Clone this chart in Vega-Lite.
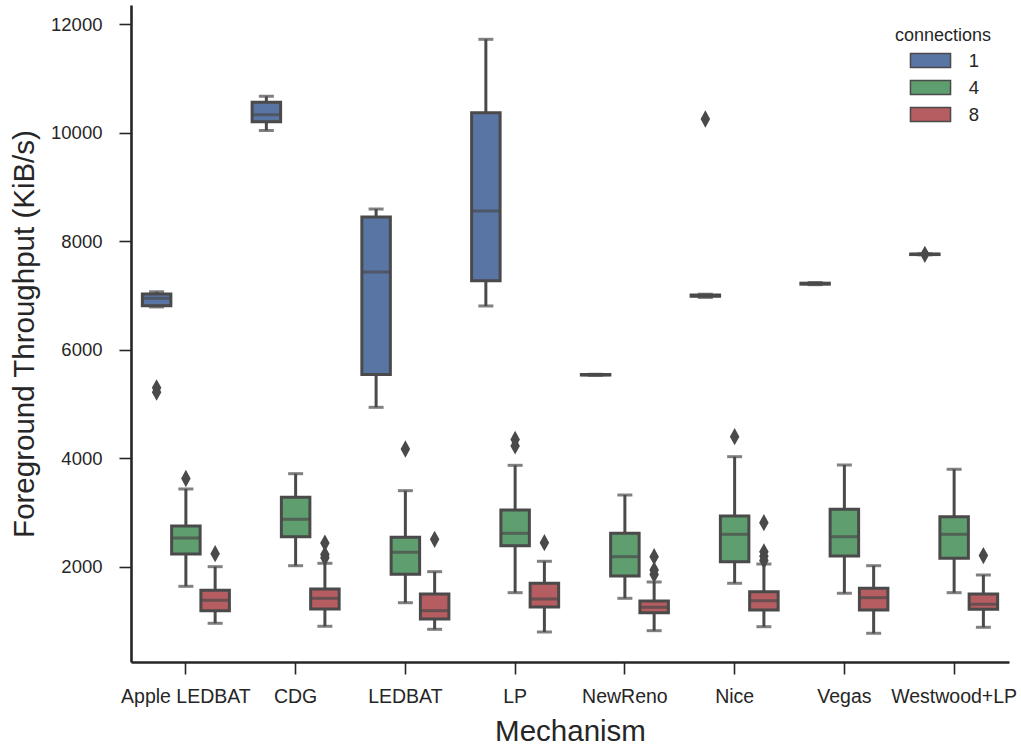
{
  "$schema": "https://vega.github.io/schema/vega-lite/v6.json",
  "width": 878,
  "height": 657,
  "autosize": {"type": "none"},
  "padding": {"left": 131, "top": 5, "right": 12, "bottom": 85},
  "background": "white",
  "config": {
    "view": {"stroke": null},
    "font": "Liberation Sans",
    "axis": {
      "labelFont": "Liberation Sans",
      "titleFont": "Liberation Sans",
      "labelColor": "#262626",
      "titleColor": "#262626",
      "domainColor": "#262626",
      "tickColor": "#262626",
      "grid": false,
      "labelFontSize": 18.5,
      "titleFontSize": 29.5,
      "titleFontWeight": "normal",
      "tickSize": 12,
      "tickWidth": 1.6,
      "domainWidth": 2.6
    },
    "axisY": {
      "tickCount": 6,
      "format": "d",
      "labelPadding": 17,
      "titleX": -98,
      "titleY": 328.5,
      "titleAngle": -90,
      "titleAlign": "center",
      "titleBaseline": "alphabetic"
    },
    "axisX": {
      "labelAngle": 0,
      "labelFontSize": 19.5,
      "labelPadding": 13,
      "titleY": 78,
      "titleBaseline": "alphabetic"
    }
  },
  "datasets": {
    "boxes": [
      {"mechanism": "Apple LEDBAT", "connections": "1", "lo": 6790, "q1": 6810, "median": 6950, "q3": 7030, "hi": 7070},
      {"mechanism": "Apple LEDBAT", "connections": "4", "lo": 1644, "q1": 2240, "median": 2534, "q3": 2755, "hi": 3437},
      {"mechanism": "Apple LEDBAT", "connections": "8", "lo": 963, "q1": 1195, "median": 1387, "q3": 1571, "hi": 2006},
      {"mechanism": "CDG", "connections": "1", "lo": 10040, "q1": 10200, "median": 10330, "q3": 10560, "hi": 10670},
      {"mechanism": "CDG", "connections": "4", "lo": 2024, "q1": 2558, "median": 2879, "q3": 3284, "hi": 3719},
      {"mechanism": "CDG", "connections": "8", "lo": 908, "q1": 1226, "median": 1423, "q3": 1595, "hi": 2068},
      {"mechanism": "LEDBAT", "connections": "1", "lo": 4941, "q1": 5545, "median": 7434, "q3": 8447, "hi": 8594},
      {"mechanism": "LEDBAT", "connections": "4", "lo": 1342, "q1": 1866, "median": 2271, "q3": 2547, "hi": 3406},
      {"mechanism": "LEDBAT", "connections": "8", "lo": 852, "q1": 1042, "median": 1195, "q3": 1503, "hi": 1914},
      {"mechanism": "LP", "connections": "1", "lo": 6808, "q1": 7274, "median": 8558, "q3": 10368, "hi": 11720},
      {"mechanism": "LP", "connections": "4", "lo": 1527, "q1": 2392, "median": 2621, "q3": 3050, "hi": 3873},
      {"mechanism": "LP", "connections": "8", "lo": 803, "q1": 1263, "median": 1411, "q3": 1700, "hi": 2105},
      {"mechanism": "NewReno", "connections": "1", "lo": 5530, "q1": 5535, "median": 5540, "q3": 5545, "hi": 5550},
      {"mechanism": "NewReno", "connections": "4", "lo": 1423, "q1": 1834, "median": 2190, "q3": 2621, "hi": 3326},
      {"mechanism": "NewReno", "connections": "8", "lo": 827, "q1": 1158, "median": 1258, "q3": 1374, "hi": 1724},
      {"mechanism": "Nice", "connections": "1", "lo": 6965, "q1": 6985, "median": 6997, "q3": 7010, "hi": 7025},
      {"mechanism": "Nice", "connections": "4", "lo": 1700, "q1": 2098, "median": 2602, "q3": 2939, "hi": 4032},
      {"mechanism": "Nice", "connections": "8", "lo": 900, "q1": 1208, "median": 1379, "q3": 1545, "hi": 2055},
      {"mechanism": "Vegas", "connections": "1", "lo": 7200, "q1": 7210, "median": 7218, "q3": 7228, "hi": 7240},
      {"mechanism": "Vegas", "connections": "4", "lo": 1516, "q1": 2203, "median": 2558, "q3": 3063, "hi": 3879},
      {"mechanism": "Vegas", "connections": "8", "lo": 779, "q1": 1208, "median": 1435, "q3": 1608, "hi": 2024},
      {"mechanism": "Westwood+LP", "connections": "1", "lo": 7750, "q1": 7755, "median": 7760, "q3": 7765, "hi": 7770},
      {"mechanism": "Westwood+LP", "connections": "4", "lo": 1527, "q1": 2160, "median": 2602, "q3": 2927, "hi": 3800},
      {"mechanism": "Westwood+LP", "connections": "8", "lo": 889, "q1": 1221, "median": 1313, "q3": 1503, "hi": 1853}
    ],
    "outliers": [
      {"mechanism": "Apple LEDBAT", "connections": "1", "value": 5300},
      {"mechanism": "Apple LEDBAT", "connections": "1", "value": 5220},
      {"mechanism": "Apple LEDBAT", "connections": "4", "value": 3630},
      {"mechanism": "Apple LEDBAT", "connections": "8", "value": 2245},
      {"mechanism": "CDG", "connections": "8", "value": 2440},
      {"mechanism": "CDG", "connections": "8", "value": 2230},
      {"mechanism": "CDG", "connections": "8", "value": 2170},
      {"mechanism": "LEDBAT", "connections": "4", "value": 4174},
      {"mechanism": "LEDBAT", "connections": "8", "value": 2510},
      {"mechanism": "LP", "connections": "4", "value": 4350},
      {"mechanism": "LP", "connections": "4", "value": 4230},
      {"mechanism": "LP", "connections": "8", "value": 2448},
      {"mechanism": "NewReno", "connections": "8", "value": 2190},
      {"mechanism": "NewReno", "connections": "8", "value": 1945},
      {"mechanism": "NewReno", "connections": "8", "value": 1860},
      {"mechanism": "Nice", "connections": "1", "value": 10252},
      {"mechanism": "Nice", "connections": "4", "value": 4400},
      {"mechanism": "Nice", "connections": "8", "value": 2816},
      {"mechanism": "Nice", "connections": "8", "value": 2280},
      {"mechanism": "Nice", "connections": "8", "value": 2200},
      {"mechanism": "Nice", "connections": "8", "value": 2120},
      {"mechanism": "Westwood+LP", "connections": "1", "value": 7760},
      {"mechanism": "Westwood+LP", "connections": "8", "value": 2210}
    ]
  },
  "encoding": {
    "x": {
      "field": "mechanism",
      "type": "nominal",
      "sort": null,
      "title": "Mechanism",
      "scale": {"paddingInner": 0, "paddingOuter": 0}
    },
    "xOffset": {
      "field": "connections",
      "type": "nominal",
      "sort": ["1", "4", "8"],
      "scale": {"paddingInner": 0, "paddingOuter": 0.375}
    }
  },
  "layer": [
    {
      "data": {"name": "boxes"},
      "mark": {"type": "rule", "color": "#4a4a4a", "strokeWidth": 3},
      "encoding": {
        "y": {"field": "lo", "type": "quantitative", "title": "Foreground Throughput (KiB/s)", "scale": {"domain": [250, 12352], "nice": false, "zero": false}},
        "y2": {"field": "hi"}
      }
    },
    {
      "data": {"name": "boxes"},
      "mark": {"type": "tick", "orient": "horizontal", "color": "#4a4a4a", "size": 15, "thickness": 3},
      "encoding": {
        "y": {"field": "lo", "type": "quantitative", "title": "Foreground Throughput (KiB/s)", "scale": {"domain": [250, 12352], "nice": false, "zero": false}}
      }
    },
    {
      "data": {"name": "boxes"},
      "mark": {"type": "tick", "orient": "horizontal", "color": "#4a4a4a", "size": 15, "thickness": 3},
      "encoding": {
        "y": {"field": "hi", "type": "quantitative", "title": "Foreground Throughput (KiB/s)", "scale": {"domain": [250, 12352], "nice": false, "zero": false}}
      }
    },
    {
      "data": {"name": "boxes"},
      "mark": {"type": "bar", "stroke": "#4a4a4a", "strokeWidth": 3, "width": 28.5},
      "encoding": {
        "y": {"field": "q1", "type": "quantitative", "title": "Foreground Throughput (KiB/s)", "scale": {"domain": [250, 12352], "nice": false, "zero": false}},
        "y2": {"field": "q3"},
        "fill": {
          "field": "connections",
          "type": "nominal",
          "title": "connections",
          "scale": {"domain": ["1", "4", "8"], "range": ["#5875A4", "#5F9E6E", "#B55D60"]},
          "legend": {
            "orient": "none",
            "legendX": 764,
            "legendY": 21.5,
            "padding": 0,
            "titleFontSize": 18,
            "titleFontWeight": "normal",
            "titleColor": "#262626",
            "titlePadding": 3,
            "labelFontSize": 18.5,
            "labelColor": "#262626",
            "symbolType": "M-1.67,-0.58L1.67,-0.58L1.67,0.58L-1.67,0.58Z",
            "symbolSize": 576,
            "symbolStrokeColor": "#4a4a4a",
            "symbolStrokeWidth": 1.5,
            "symbolOpacity": 1,
            "symbolOffset": 22.5,
            "labelOffset": 25.2,
            "rowPadding": 4
          }
        }
      }
    },
    {
      "data": {"name": "boxes"},
      "mark": {"type": "tick", "orient": "horizontal", "color": "#4a4a4a", "size": 28, "thickness": 3},
      "encoding": {
        "y": {"field": "median", "type": "quantitative", "title": "Foreground Throughput (KiB/s)", "scale": {"domain": [250, 12352], "nice": false, "zero": false}}
      }
    },
    {
      "data": {"name": "outliers"},
      "mark": {"type": "point", "shape": "M0,-1L0.55,0L0,1L-0.55,0Z", "filled": true, "size": 300, "color": "#4a4a4a", "opacity": 1},
      "encoding": {
        "y": {"field": "value", "type": "quantitative", "title": "Foreground Throughput (KiB/s)", "scale": {"domain": [250, 12352], "nice": false, "zero": false}}
      }
    }
  ]
}
